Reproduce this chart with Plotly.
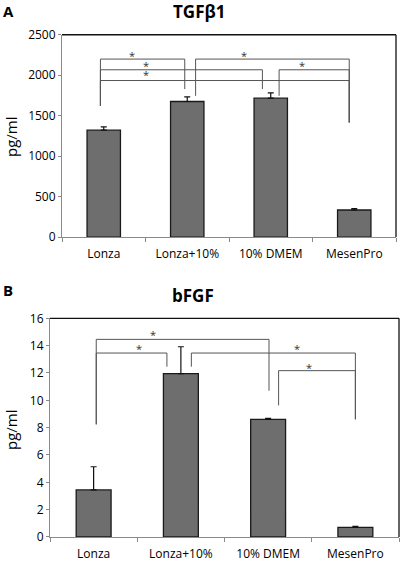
import plotly.graph_objects as go

categories = ["Lonza", "Lonza+10%", "10% DMEM", "MesenPro"]

# Panel A: TGFβ1
tgf_values = [1320, 1675, 1716, 334]
tgf_err = [41, 58, 66, 16]
tgf_yticks = [0, 500, 1000, 1500, 2000, 2500]
# brackets: (x_left, x_right, y_bar, y_left_end, y_right_end)
tgf_brackets = [
    (-0.04, 0.97, 2199, 1621, 1828),
    (-0.04, 1.90, 2067, 1621, 1828),
    (-0.04, 2.94, 1934, 1621, 1415),
    (1.10, 2.94, 2199, 1745, 1415),
    (2.10, 2.94, 2067, 1745, 1415),
]
tgf_star_x = [0.34, 0.51, 0.51, 1.68, 2.38]
tgf_star_y = [2244, 2116, 2009, 2244, 2116]

# Panel B: bFGF
bfgf_values = [3.44, 11.95, 8.6, 0.71]
bfgf_err = [1.70, 1.97, 0.08, 0.07]
bfgf_yticks = [0, 2, 4, 6, 8, 10, 12, 14, 16]
bfgf_brackets = [
    (0.03, 2.01, 14.46, 8.24, 10.70),
    (0.03, 0.84, 13.46, 8.24, 12.46),
    (1.12, 3.00, 13.46, 12.46, 8.61),
    (2.12, 3.00, 12.17, 9.63, 8.61),
]
bfgf_star_x = [0.68, 0.52, 2.33, 2.47]
bfgf_star_y = [14.80, 13.80, 13.80, 12.38]

FONT = "Open Sans"
BAR = "#6e6e6e"
BR = "#555555"

fig = go.Figure()

def add_panel(vals, errs, xa, ya):
    fig.add_trace(go.Bar(
        x=categories, y=vals, width=0.4,
        marker=dict(color=BAR, line=dict(color="#1a1a1a", width=1.3)),
        error_y=dict(type="data", array=errs, arrayminus=[0]*len(errs), symmetric=False,
                     color="#111111", thickness=1.2, width=3),
        xaxis=xa, yaxis=ya, showlegend=False, hoverinfo="skip",
    ))

add_panel(tgf_values, tgf_err, "x", "y")
add_panel(bfgf_values, bfgf_err, "x2", "y2")

shapes = []
annotations = []

def add_brackets(brackets, sx, sy, xr, yr):
    for (xl, xr_, yb, yl, yr_) in brackets:
        shapes.append(dict(type="path", xref=xr, yref=yr,
                           path=f"M {xl},{yl} L {xl},{yb} L {xr_},{yb} L {xr_},{yr_}",
                           line=dict(color=BR, width=1)))
    for x, y in zip(sx, sy):
        annotations.append(dict(x=x, y=y, xref=xr, yref=yr, text="*", showarrow=False,
                                xanchor="center", yanchor="middle",
                                font=dict(family=FONT, size=11, color="#333333")))

add_brackets(tgf_brackets, tgf_star_x, tgf_star_y, "x", "y")
add_brackets(bfgf_brackets, bfgf_star_x, bfgf_star_y, "x2", "y2")

# frame borders (top and right) in paper coords
A_x = [0.155, 0.99]
A_y = [0.5775, 0.9381]
B_x = [0.125, 0.9975]
B_y = [0.0428, 0.4326]
for dx, dy in [(A_x, A_y), (B_x, B_y)]:
    shapes.append(dict(type="line", xref="paper", yref="paper", x0=dx[0], x1=dx[1], y0=dy[1], y1=dy[1],
                       line=dict(color="#111111", width=1.3)))
    shapes.append(dict(type="line", xref="paper", yref="paper", x0=dx[1], x1=dx[1], y0=dy[0], y1=dy[1],
                       line=dict(color="#111111", width=1.3)))

def txt(x, y, text, size, angle=0, xanchor="center"):
    return dict(x=x/400, y=1-y/561, xref="paper", yref="paper", text=text, showarrow=False,
                xanchor=xanchor, yanchor="middle", textangle=angle,
                font=dict(family=FONT, size=size, color="black"))

annotations += [
    txt(199, 12, "<b>TGFβ1</b>", 17),
    txt(1, 11, "<b>A</b>", 15, xanchor="left"),
    txt(193, 295, "<b>bFGF</b>", 17),
    txt(1, 290, "<b>B</b>", 15, xanchor="left"),
    txt(11, 137, "pg/ml", 15, angle=-90),
    txt(11, 430, "pg/ml", 15, angle=-90),
]

xcommon = dict(type="category", categoryorder="array", categoryarray=categories,
               range=[-0.5, 3.5], showline=True, linecolor="#8a8a8a", linewidth=1,
               ticks="outside", tickson="boundaries", ticklen=4, tickcolor="#8a8a8a",
               showgrid=False, zeroline=False, tickfont=dict(family=FONT, size=12, color="black"),
               ticklabelstandoff=6, automargin=False)
ycommon = dict(showline=True, linecolor="#8a8a8a", linewidth=1, ticks="outside", ticklen=3,
               tickcolor="#8a8a8a", showgrid=False, zeroline=False, automargin=False,
               tickfont=dict(family=FONT, size=12, color="black"))

fig.update_layout(
    width=400, height=561, margin=dict(l=0, r=0, t=0, b=0, autoexpand=False),
    paper_bgcolor="white", plot_bgcolor="white", hovermode=False,
    xaxis=dict(domain=A_x, anchor="y", **xcommon),
    yaxis=dict(domain=A_y, anchor="x", range=[0, 2500], tickvals=tgf_yticks, **ycommon),
    xaxis2=dict(domain=B_x, anchor="y2", **xcommon),
    yaxis2=dict(domain=B_y, anchor="x2", range=[0, 16], tickvals=bfgf_yticks, **ycommon),
    shapes=shapes, annotations=annotations, bargap=0.6,
)

fig.write_html("out.html", config={"displayModeBar": False},
               post_script="document.body.style.margin='0';document.body.style.overflow='hidden';")
